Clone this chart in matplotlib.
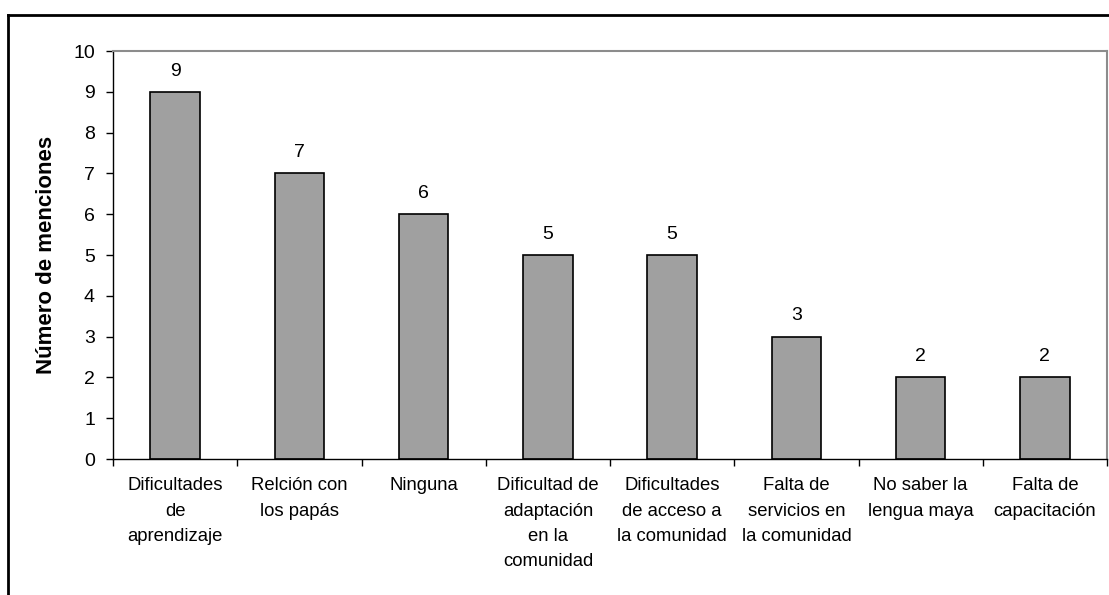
import numpy as np
import matplotlib.pyplot as plt
from matplotlib.lines import Line2D

categories = [
    "Dificultades\nde\naprendizaje",
    "Relción con\nlos papás",
    "Ninguna",
    "Dificultad de\nadaptación\nen la\ncomunidad",
    "Dificultades\nde acceso a\nla comunidad",
    "Falta de\nservicios en\nla comunidad",
    "No saber la\nlengua maya",
    "Falta de\ncapacitación",
]
menciones = [9, 7, 6, 5, 5, 3, 2, 2]

plt.rcParams['font.family'] = ['Liberation Sans', 'DejaVu Sans']

fig = plt.figure(figsize=(11.09, 5.95), dpi=100)
ax = fig.add_axes([113 / 1109, 1 - 459 / 595, (1107 - 113) / 1109, (459 - 51) / 595])

x = np.arange(len(categories))
ax.bar(x, menciones, width=0.4, color='#a0a0a0', edgecolor='black', linewidth=1.2)

for xi, v in zip(x, menciones):
    ax.text(xi, v + 0.3, str(v), ha='center', va='bottom', fontsize=14)

ax.set_xlim(-0.5, len(categories) - 0.5)
ax.set_ylim(0, 10)
ax.set_yticks(range(0, 11))
ax.tick_params(axis='y', labelsize=14, length=5, width=1, pad=8, direction='out')

ax.set_xticks(x)
ax.set_xticklabels(categories, fontsize=13.3, linespacing=1.65, va='top')
ax.tick_params(axis='x', which='major', length=0, pad=13)
ax.set_xticks(np.arange(-0.5, len(categories) + 0.5, 1), minor=True)
ax.tick_params(axis='x', which='minor', length=5, width=1, direction='out')

for side in ('left', 'bottom'):
    ax.spines[side].set_color('black')
    ax.spines[side].set_linewidth(1)
for side in ('top', 'right'):
    ax.spines[side].set_color('#8c8c8c')
    ax.spines[side].set_linewidth(1.5)

ax.set_ylabel('Número de menciones', fontsize=16, fontweight='bold', labelpad=12)

# outer chart frame (only top and left edges fall inside the image)
fx0 = 8 / 1109
fy1 = 1 - 15 / 595
fig.add_artist(Line2D([fx0, 1.0], [fy1, fy1], transform=fig.transFigure, color='black', linewidth=2))
fig.add_artist(Line2D([fx0, fx0], [0.0, fy1], transform=fig.transFigure, color='black', linewidth=2))

fig.savefig('out.png', dpi=100)
